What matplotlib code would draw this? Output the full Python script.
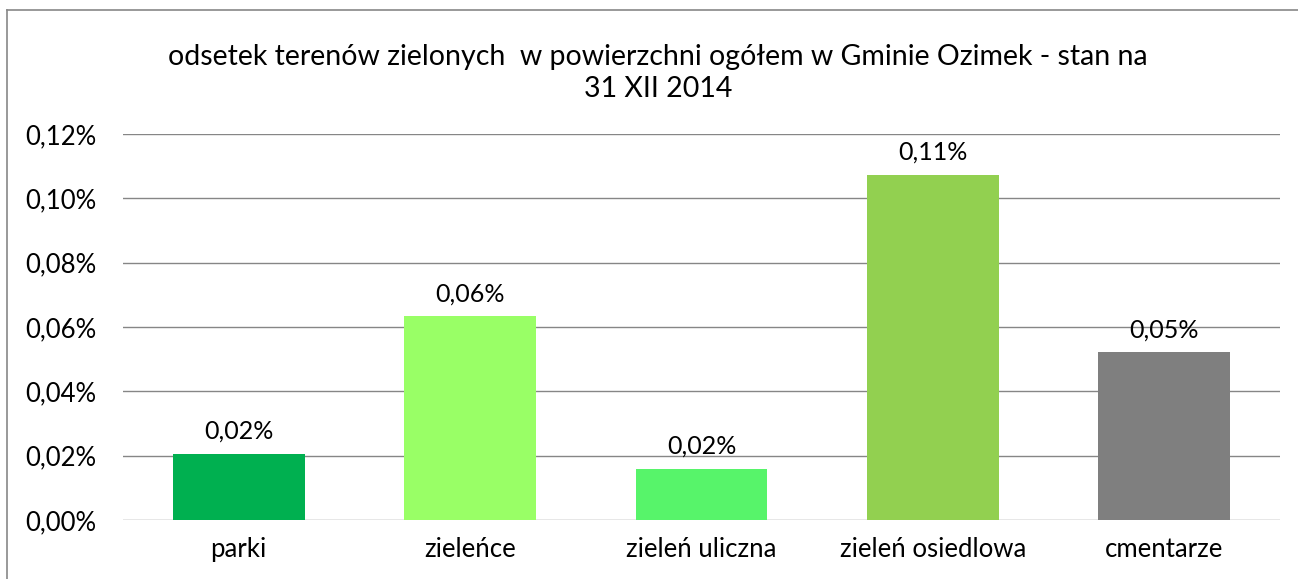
import matplotlib
matplotlib.use("Agg")
import matplotlib.pyplot as plt
from matplotlib.lines import Line2D

# Dane
kategorie = ["parki", "zieleńce", "zieleń uliczna", "zieleń osiedlowa", "cmentarze"]
wartosci = [0.0205, 0.0633, 0.0158, 0.1072, 0.0521]
etykiety = ["0,02%", "0,06%", "0,02%", "0,11%", "0,05%"]
kolory = ["#00B050", "#99FF66", "#57F46A", "#92D050", "#7F7F7F"]
yticks = [0.0, 0.02, 0.04, 0.06, 0.08, 0.10, 0.12]
ytick_labels = ["0,00%", "0,02%", "0,04%", "0,06%", "0,08%", "0,10%", "0,12%"]

plt.rcParams["font.family"] = ["Lato", "DejaVu Sans"]

fig = plt.figure(figsize=(12.98, 5.79), dpi=100)
W, H = 1298, 579
ax = fig.add_axes([123 / W, 1 - 520 / H, (1280 - 123) / W, (520 - 134) / H])

x = range(len(kategorie))
ax.bar(x, wartosci, width=0.57, color=kolory, zorder=2)
for i, (v, t) in enumerate(zip(wartosci, etykiety)):
    ax.annotate(t, (i, v), xytext=(0, 8), textcoords="offset points",
                ha="center", va="bottom", fontsize=18, color="#000000")

ax.set_xlim(-0.5, len(kategorie) - 0.5)
ax.set_ylim(0, 0.12)
ax.set_yticks(yticks)
ax.set_yticklabels(ytick_labels, fontsize=18.5)
ax.set_xticks(list(x))
ax.set_xticklabels(kategorie, fontsize=18.5)
ax.tick_params(axis="both", length=0)
ax.tick_params(axis="y", pad=19)
ax.tick_params(axis="x", pad=12)
ax.grid(axis="y", color="#868686", linewidth=1, zorder=0)
for s in ax.spines.values():
    s.set_visible(False)

fig.text(658 / W, 1 - 57 / H, "odsetek terenów zielonych  w powierzchni ogółem w Gminie Ozimek - stan na",
         ha="center", va="center", fontsize=20.5)
fig.text(658 / W, 1 - 89 / H, "31 XII 2014", ha="center", va="center", fontsize=20.5)

# ramka wykresu
fig.add_artist(Line2D([7 / W, 7 / W], [0, 1 - 10 / H], color="#888888", linewidth=1.2))
fig.add_artist(Line2D([7 / W, 1], [1 - 10 / H, 1 - 10 / H], color="#888888", linewidth=1.2))

fig.savefig("out.png", dpi=100)
